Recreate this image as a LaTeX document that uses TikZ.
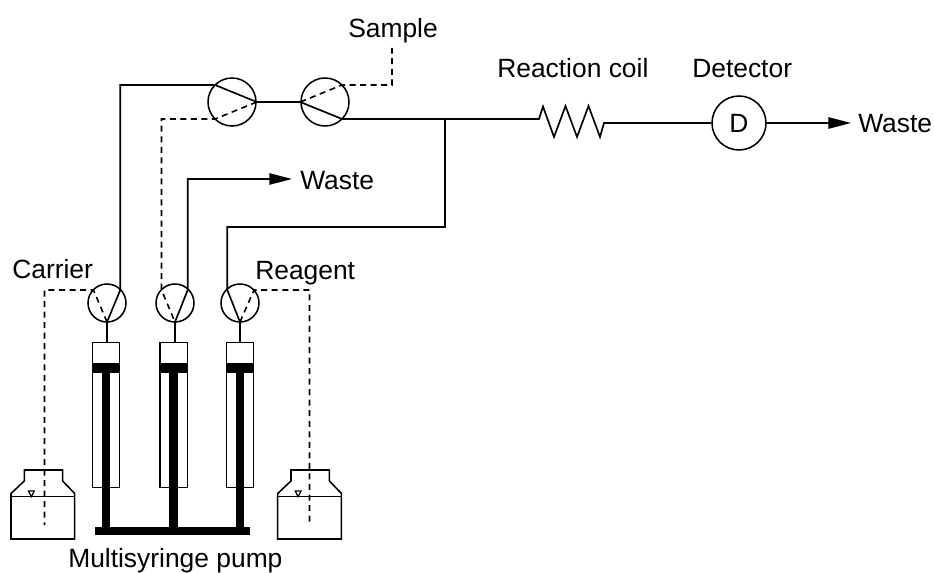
\documentclass[tikz,border=0pt]{standalone}
\usepackage{fontspec}
\setmainfont{Liberation Sans}
\usetikzlibrary{arrows.meta}
\tikzset{
  tube/.style={line width=1.25pt,line join=miter},
  dtube/.style={line width=1.2pt,dash pattern=on 4.5pt off 3.4pt},
  big/.style={circle,draw,line width=1.15pt,minimum size=54*0.75pt,inner sep=0pt,font=\fontsize{19.8}{22}\selectfont},
  valvebig/.style={circle,draw,line width=1.15pt,minimum size=48*0.75pt,inner sep=0pt},
  valvesmall/.style={circle,draw,line width=1.15pt,minimum size=38*0.75pt,inner sep=0pt},
  lbl/.style={anchor=base west,inner sep=0pt,font=\fontsize{19.8}{22}\selectfont},
  outarrow/.style={tube,-{Triangle[length=17pt,width=8.5pt]}},
  barrel/.style={draw,line width=1.15pt},
  solidblack/.style={fill=black,draw=none},
  bottle/.style={draw,line width=1.15pt,line join=miter},
}
\begin{document}
\begin{tikzpicture}[x=0.75pt,y=-0.75pt]
\useasboundingbox (0,0) rectangle (934,573);
% labels
\node[lbl] (sampleL) at (348,38) {Sample};
\node[lbl] (coilL) at (497,78) {Reaction coil};
\node[lbl] (detL) at (692,78) {Detector};
\node[lbl] (wasteA) at (300,190) {Waste};
\node[lbl] (wasteB) at (858,133) {Waste};
\node[lbl] (carrierL) at (12,279) {Carrier};
\node[lbl] (reagentL) at (255,280) {Reagent};
\node[lbl] (pumpL) at (68,567.5) {Multisyringe pump};
% valves and detector
\node[valvebig] (v1) at (232,102) {};
\node[valvebig] (v2) at (325,102) {};
\node[valvesmall] (va) at (107,303) {};
\node[valvesmall] (vb) at (175,303) {};
\node[valvesmall] (vc) at (240,303) {};
\node[big] (det) at (739,123) {D};
% free points
\coordinate (v1nw) at (215,85);
\coordinate (v1sw) at (215,119);
\coordinate (v2ne) at (342,85);
\coordinate (v2se) at (342,119);
\coordinate (j) at (445,119);
\coordinate (coilin) at (539,119);
\coordinate (coilout) at (604,123);
\coordinate (sampleEnd) at (392,48);
\coordinate (vaS) at (107,322);
\coordinate (vbS) at (175,322);
\coordinate (vcS) at (240,322);
\coordinate (vaNE) at (120.3,290);
\coordinate (vaNW) at (93.5,290);
\coordinate (vbNE) at (187.7,290);
\coordinate (vbNW) at (161.5,290);
\coordinate (vcNW) at (227.3,290);
\coordinate (vcNE) at (254,290);
\coordinate (carrierEnd) at (44.5,525);
\coordinate (reagentEnd) at (309.5,525);
\coordinate (wasteAin) at (292,179);
\coordinate (wasteBin) at (851,123);
% solid tubes
\draw[tube] (vaS) -- (vaNE) -- (120.3,85) -- (v1nw) -- (v1.east) -- (v2.west) -- (v2se) -- (j) -- (coilin)
  -- (543,106.5) -- (554,137) -- (565.5,106) -- (577,137) -- (588.5,106) -- (600,137) -- (coilout) -- (det.west);
\draw[tube] (vcS) -- (vcNW) -- (227.3,227) -- (445,227) -- (j);
\draw[outarrow] (vbS) -- (vbNE) -- (187.7,179) -- (wasteAin);
\draw[outarrow] (det.east) -- (wasteBin);
% dashed tubes
\draw[dtube] (v1.east) -- (v1sw) -- (161.5,119) -- (vbNW) -- (vbS);
\draw[dtube] (v2.west) -- (v2ne) -- (392,85) -- (sampleEnd);
\draw[dtube] (vaS) -- (vaNW) -- (44.5,290) -- (carrierEnd);
\draw[dtube] (vcS) -- (vcNE) -- (309.5,290) -- (reagentEnd);
% syringes
\foreach \n/\cx/\l/\r/\a/\b in {a/107/92.5/119.3/101.7/109.7, b/175/160/187.3/169.3/178, c/240/226.7/253.3/236/244.3}{
  \node[draw=none,inner sep=0pt,minimum size=0pt] (top\n) at (\cx,342.7) {};
  \draw[barrel] (\l,342.7) rectangle (\r,487.7);
  \fill[solidblack] (\l,362.7) rectangle (\r,373.3);
  \fill[solidblack] (\a,373) rectangle (\b,527);
}
\draw[tube] (vaS) -- (topa);
\draw[tube] (vbS) -- (topb);
\draw[tube] (vcS) -- (topc);
\fill[solidblack] (95,526.7) rectangle (250.3,535);
% bottles
\foreach \o in {0,266.7}{
  \begin{scope}[xshift=\o*0.75pt]
  \draw[bottle] (11,539) -- (11,493.5) -- (24.3,481) -- (24.3,470) -- (62.7,470) -- (62.7,481) -- (74.7,493.5) -- (74.7,539) -- cycle;
  \draw[line width=1.15pt] (11,496.7) -- (74.7,496.7);
  \draw[line width=0.9pt] (28.5,491) -- (34.3,491) -- (31.4,496.7) -- cycle;
  \end{scope}
}
\end{tikzpicture}
\end{document}
